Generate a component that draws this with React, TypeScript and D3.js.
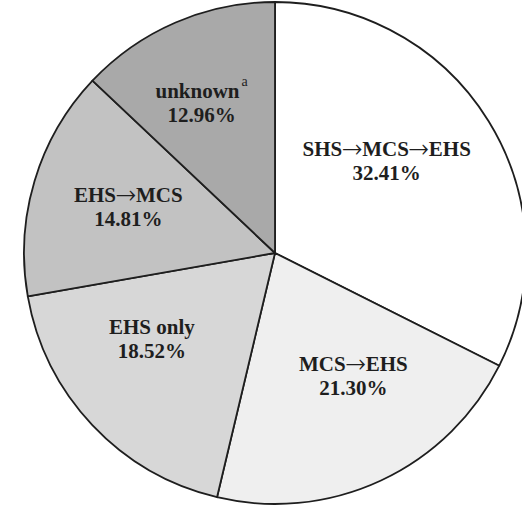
import * as d3 from "d3";

const labels = ["SHS→MCS→EHS", "MCS→EHS", "EHS only", "EHS→MCS", "unknown"];
const percents = [32.41, 21.3, 18.52, 14.81, 12.96];
const fills = ["#ffffff", "#efefef", "#d7d7d7", "#c2c2c2", "#a9a9a9"];

// small nudges so the labels sit where the original has them
const nudges: Record<string, [number, number]> = {
  "SHS→MCS→EHS": [-16, -12],
  "MCS→EHS": [15, -12],
  "EHS only": [-14, -16],
  "EHS→MCS": [-3, -2],
  unknown: [-14, -11],
};

const width = 522;
const height = 507;
const cx = 275;
const cy = 253;
const radius = 251;
const serif = '"Liberation Serif", "FreeSerif", serif';

export default function App() {
  const data = labels.map((name, i) => ({ name, value: percents[i], fill: fills[i] }));
  const pie = d3
    .pie<(typeof data)[0]>()
    .value((d) => d.value)
    .sort(null);
  const arcs = pie(data);
  const arc = d3.arc<d3.PieArcDatum<(typeof data)[0]>>().innerRadius(0).outerRadius(radius);
  const labelArc = d3.arc<d3.PieArcDatum<(typeof data)[0]>>().innerRadius(150).outerRadius(150);

  // arrows from FreeSerif, the Liberation one is tiny
  const nameParts = (name: string) =>
    name.split("→").flatMap((part, i) =>
      i === 0
        ? [<tspan key={i}>{part}</tspan>]
        : [
            <tspan key={"a" + i} style={{ fontFamily: '"FreeSerif"', fontWeight: "normal", fontSize: 25 }}>
              →
            </tspan>,
            <tspan key={i}>{part}</tspan>,
          ]
    );

  return (
    <svg
      width={width}
      height={height}
      viewBox={`0 0 ${width} ${height}`}
      style={{ position: "absolute", left: 0, top: 0, background: "#fff" }}
    >
      <g transform={`translate(${cx},${cy})`}>
        {arcs.map((d) => (
          <path
            key={d.data.name}
            d={arc(d) || ""}
            fill={d.data.fill}
            stroke="#1e1e1e"
            strokeWidth={1.8}
            strokeLinejoin="round"
          />
        ))}
        {arcs.map((d) => {
          const [x, y] = labelArc.centroid(d);
          const [nx, ny] = nudges[d.data.name];
          return (
            <text
              key={d.data.name}
              x={x + nx}
              y={y + ny}
              textAnchor="middle"
              style={{ fontFamily: serif, fontWeight: "bold", fontSize: 21 }}
              fill="#1e1e1e"
            >
              <tspan x={x + nx} dy={-6}>
                {nameParts(d.data.name)}
                {d.data.name === "unknown" ? (
                  <tspan style={{ fontSize: 14, fontWeight: "normal" }} dx={2} dy={-12}>
                    a
                  </tspan>
                ) : null}
              </tspan>
              <tspan x={x + nx} dy={d.data.name === "unknown" ? 36 : 24}>
                {d.data.value.toFixed(2)}%
              </tspan>
            </text>
          );
        })}
      </g>
    </svg>
  );
}
